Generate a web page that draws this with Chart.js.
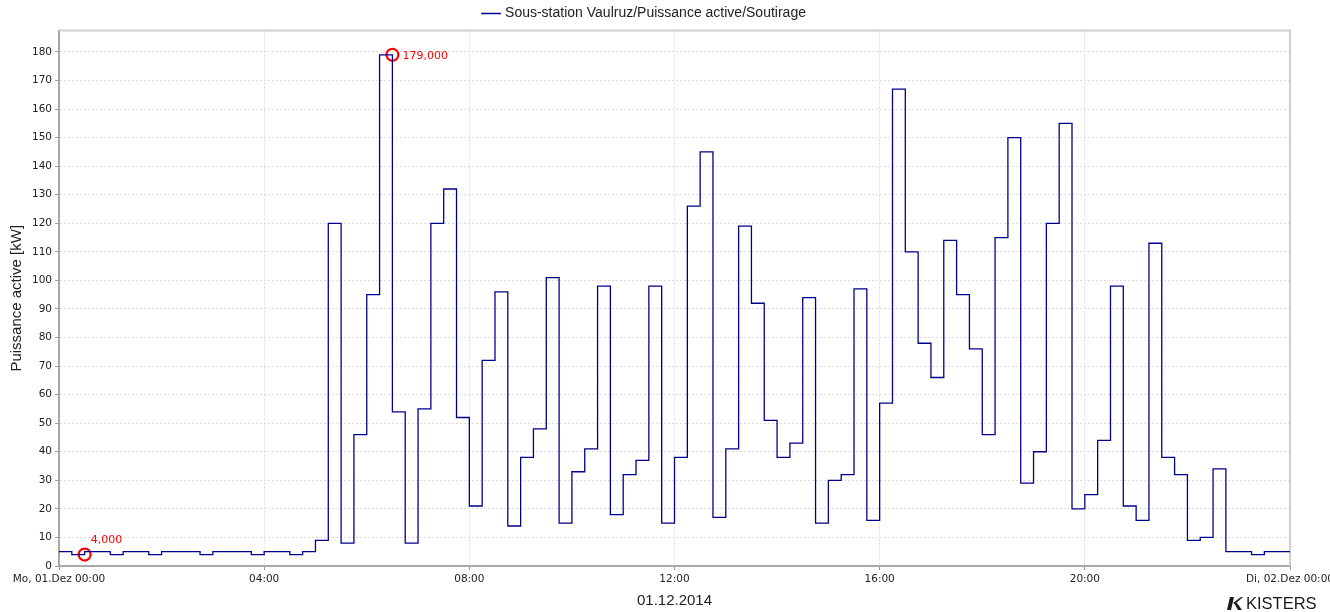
<!DOCTYPE html>
<html>
<head>
<meta charset="utf-8">
<script src="https://cdn.jsdelivr.net/npm/chart.js@4"></script>
<style>
  html, body { margin: 0; padding: 0; background: #fff; overflow: hidden; }
  #wrap { position: relative; width: 1345px; height: 612px; }
  #logo { position: absolute; left: 1227px; top: 594px; height: 18px; display: flex; align-items: center;
          font-family: "Liberation Sans Narrow", "Liberation Sans", sans-serif; font-size: 16.5px; color: #1a1a1a; }
  #logo svg { margin-right: 3px; }
</style>
</head>
<body>
<div id="wrap">
  <canvas id="chart" width="1345" height="612"></canvas>
  <div id="logo">
    <svg width="16" height="13" viewBox="0 0 16 13"><polygon points="3,0 7,0 4,13 0,13" fill="#1a1a1a"/><polygon points="6,6 14,0 16,0 8,7" fill="#1a1a1a"/><polygon points="7,6 10,6 15,13 11,13" fill="#1a1a1a"/></svg>KISTERS
  </div>
</div>
<script>
// 15-minute values of 01.12.2014, each stamped at the end of its interval (00:15 ... 24:00)
const seriesLabel = 'Sous-station Vaulruz/Puissance active/Soutirage';
const values = [
  5, 4, 5, 5, 4, 5, 5, 4, 5, 5, 5, 4, 5, 5, 5, 4,
  5, 5, 4, 5, 9, 120, 8, 46, 95, 179, 54, 8, 55, 120, 132, 52,
  21, 72, 96, 14, 38, 48, 101, 15, 33, 41, 98, 18, 32, 37, 98, 15,
  38, 126, 145, 17, 41, 119, 92, 51, 38, 43, 94, 15, 30, 32, 97, 16,
  57, 167, 110, 78, 66, 114, 95, 76, 46, 115, 150, 29, 40, 120, 155, 20,
  25, 44, 98, 21, 16, 113, 38, 32, 9, 10, 34, 5, 5, 4, 5, 5
];
const xTickLabels = ['Mo, 01.Dez 00:00', '04:00', '08:00', '12:00', '16:00', '20:00', 'Di, 02.Dez 00:00'];
const xTitle = '01.12.2014';
const yTitle = 'Puissance active [kW]';

const STEP = 15; // minutes per value
const points = [{ x: 0, y: values[0] }].concat(values.map((v, i) => ({ x: (i + 1) * STEP, y: v })));

const minIdx = values.indexOf(Math.min(...values));
const maxIdx = values.indexOf(Math.max(...values));
const extremes = [
  { x: (minIdx + 1) * STEP, y: values[minIdx], kind: 'min' },
  { x: (maxIdx + 1) * STEP, y: values[maxIdx], kind: 'max' }
];

const tickFont = { family: 'DejaVu Sans', size: 10.5 };

// value labels beside the red extreme markers + light top/right frame
const extraDraw = {
  id: 'extraDraw',
  beforeDatasetsDraw(chart) {
    const { ctx, chartArea: a } = chart;
    ctx.save();
    ctx.strokeStyle = '#cfcfcf';
    ctx.lineWidth = 2;
    ctx.beginPath();
    ctx.moveTo(a.left, a.top);
    ctx.lineTo(a.right, a.top);
    ctx.lineTo(a.right, a.bottom);
    ctx.stroke();
    ctx.restore();
  },
  afterDatasetsDraw(chart) {
    const { ctx } = chart;
    const meta = chart.getDatasetMeta(1);
    ctx.save();
    ctx.fillStyle = '#ff0000';
    ctx.font = '11px "DejaVu Sans"';
    ctx.textBaseline = 'middle';
    meta.data.forEach((pt, i) => {
      const d = extremes[i];
      const txt = d.y.toFixed(3).replace('.', ',');
      if (d.kind === 'max') ctx.fillText(txt, pt.x + 10, pt.y + 1);
      else ctx.fillText(txt, pt.x + 6, pt.y - 14);
    });
    ctx.restore();
  }
};

const gridOpts = { color: '#dcdcdc', tickLength: 4, tickColor: '#999', tickBorderDash: [] };
const borderOpts = { color: '#a8a8a8', width: 2, dash: [2, 2] };

new Chart(document.getElementById('chart'), {
  type: 'line',
  data: {
    datasets: [{
      label: seriesLabel,
      data: points,
      stepped: 'after',
      borderColor: '#00008f',
      borderWidth: 1.3,
      pointRadius: 0,
      fill: false
    }, {
      label: 'extremes',
      data: extremes,
      showLine: false,
      pointStyle: 'circle',
      pointRadius: 6,
      pointBorderWidth: 2.2,
      pointBorderColor: '#ff0000',
      pointBackgroundColor: 'rgba(0,0,0,0)'
    }]
  },
  options: {
    responsive: false,
    animation: false,
    layout: { padding: { left: 0, right: 55, top: 2, bottom: 0 } },
    plugins: {
      legend: {
        position: 'top',
        labels: {
          filter: item => item.datasetIndex === 0,
          usePointStyle: true,
          pointStyle: 'line',
          boxWidth: 16,
          padding: 4.5,
          color: '#222',
          font: { family: 'Liberation Sans', size: 14 }
        }
      },
      tooltip: { enabled: false }
    },
    scales: {
      x: {
        type: 'linear',
        min: 0,
        max: 1440,
        afterFit: s => { s.height = 46; },
        ticks: {
          stepSize: 240,
          autoSkip: false,
          maxRotation: 0,
          padding: 3,
          color: '#222',
          font: tickFont,
          callback: v => xTickLabels[v / 240]
        },
        grid: gridOpts,
        border: borderOpts,
        title: { display: true, text: xTitle, color: '#222', font: { family: 'Liberation Sans', size: 15 }, padding: { top: 2, bottom: 2 } }
      },
      y: {
        min: 0,
        max: 187.5,
        afterFit: s => { s.width = 59; },
        ticks: {
          stepSize: 10,
          includeBounds: false,
          padding: 3,
          color: '#222',
          font: tickFont
        },
        grid: gridOpts,
        border: borderOpts,
        title: { display: true, text: yTitle, color: '#222', font: { family: 'Liberation Sans', size: 15 }, padding: { top: 8, bottom: 4 } }
      }
    }
  },
  plugins: [extraDraw]
});
</script>
</body>
</html>
